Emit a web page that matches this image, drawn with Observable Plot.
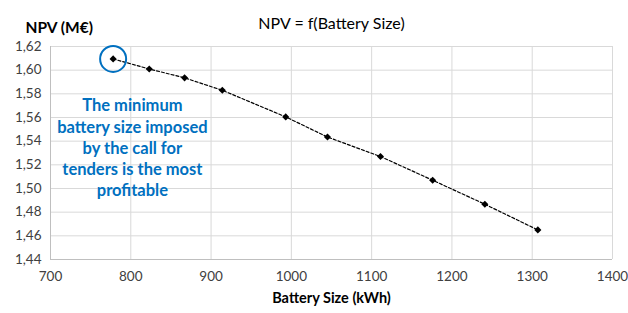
<!DOCTYPE html>
<html>
<head>
<meta charset="utf-8">
<script src="https://cdn.jsdelivr.net/npm/d3@7"></script>
<script src="https://cdn.jsdelivr.net/npm/@observablehq/plot@0.6"></script>
<style>
  html, body { margin: 0; padding: 0; background: #fff; }
  #chart svg { display: block; }
</style>
</head>
<body>
<div id="chart"></div>
<script>
const batterySize = [778, 823, 867, 914, 993, 1045, 1111, 1176, 1241, 1307];
const npv = [1.6095, 1.601, 1.5935, 1.583, 1.5605, 1.5435, 1.527, 1.507, 1.4867, 1.465];
const xTicks = [700, 800, 900, 1000, 1100, 1200, 1300, 1400];
const yTicks = [1.44, 1.46, 1.48, 1.50, 1.52, 1.54, 1.56, 1.58, 1.60, 1.62];
const title = "NPV = f(Battery Size)";
const xLabel = "Battery Size (kWh)";
const yLabel = "NPV (M€)";
const note = "The minimum\nbattery size imposed\nby the call for\ntenders is the most\nprofitable";

const data = batterySize.map((x, i) => ({x, y: npv[i]}));
const fmtY = d => d3.format(".2f")(d).replace(".", ",");
const fmtX = d => String(d);
const blue = "#0070C0";
const font = "Lato, 'Open Sans', sans-serif";

const chart = Plot.plot({
  width: 628,
  height: 313,
  marginLeft: 50,
  marginRight: 16,
  marginTop: 46,
  marginBottom: 54,
  style: {fontFamily: font, fontSize: "13px", color: "#404040", background: "#fff"},
  x: {domain: [700, 1400], label: null},
  y: {domain: [1.44, 1.62], label: null},
  marks: [
    Plot.gridX(xTicks, {stroke: "#d9d9d9", strokeOpacity: 1, strokeWidth: 1}),
    Plot.gridY(yTicks, {stroke: "#d9d9d9", strokeOpacity: 1, strokeWidth: 1}),
    Plot.ruleX([700], {stroke: "#bfbfbf"}),
    Plot.ruleY([1.44], {stroke: "#bfbfbf"}),
    Plot.axisX(xTicks, {tickSize: 0, tickPadding: 12, label: null, tickFormat: fmtX, fontSize: 13.5, fill: "#404040"}),
    Plot.axisY(yTicks, {tickSize: 0, tickPadding: 9, label: null, tickFormat: fmtY, fontSize: 13.5, fill: "#404040"}),
    Plot.line(data, {x: "x", y: "y", stroke: "#000", strokeWidth: 1.2, strokeDasharray: "3,2"}),
    Plot.dot(data, {x: "x", y: "y", symbol: "diamond2", r: 3.2, fill: "#000"}),
    Plot.dot(data.slice(0, 1), {x: "x", y: "y", r: 13, stroke: blue, strokeWidth: 2, fill: "none"}),
    Plot.text([note], {x: 802, y: 1.535, text: d => d, fill: blue, fontWeight: "bold", fontSize: 16.5, lineHeight: 1.29, textAnchor: "middle", lineAnchor: "middle"}),
    Plot.text([title], {frameAnchor: "top", dy: -29, text: d => d, fontSize: 16, fill: "#000"}),
    Plot.text([yLabel], {frameAnchor: "top-left", dx: -25, dy: -25, text: d => d, textAnchor: "start", fontSize: 15.5, fontWeight: "bold", fill: "#000"}),
    Plot.text([xLabel], {frameAnchor: "bottom", dy: 43, text: d => d, fontSize: 14.5, fontWeight: "bold", fill: "#000"})
  ]
});
document.getElementById("chart").appendChild(chart);
</script>
</body>
</html>
